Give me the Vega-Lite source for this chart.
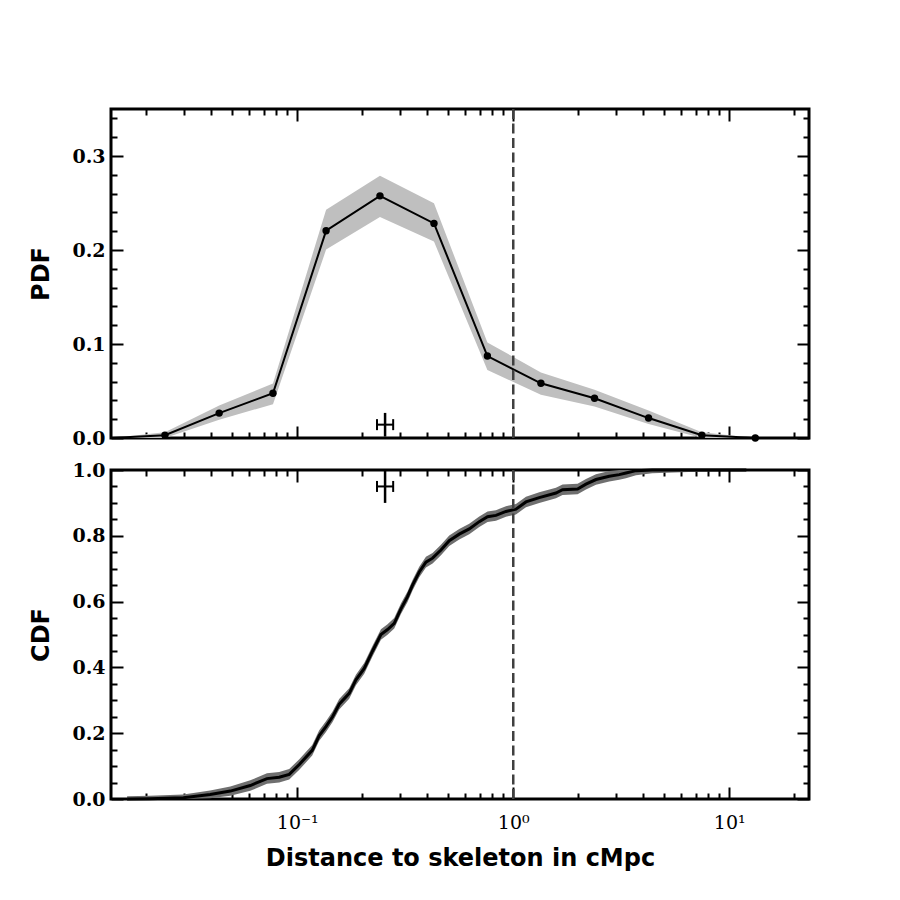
{
  "$schema": "https://vega.github.io/schema/vega-lite/v6.json",
  "background": "white",
  "padding": {"left": 28, "top": 106, "right": 10, "bottom": 10},
  "bounds": "flush",
  "spacing": 32,
  "datasets": {
    "pdf": [
      {"d": 0.01373, "pdf": 0.0, "lo": 0.0, "hi": 0.0},
      {"d": 0.0244, "pdf": 0.003, "lo": 0.0, "hi": 0.006},
      {"d": 0.0435, "pdf": 0.0265, "lo": 0.0195, "hi": 0.0346},
      {"d": 0.0772, "pdf": 0.0476, "lo": 0.036, "hi": 0.058},
      {"d": 0.136, "pdf": 0.2205, "lo": 0.2004, "hi": 0.2427},
      {"d": 0.2415, "pdf": 0.2576, "lo": 0.235, "hi": 0.279},
      {"d": 0.4295, "pdf": 0.2283, "lo": 0.209, "hi": 0.2497},
      {"d": 0.759, "pdf": 0.0872, "lo": 0.0724, "hi": 0.1016},
      {"d": 1.343, "pdf": 0.0582, "lo": 0.046, "hi": 0.0698},
      {"d": 2.378, "pdf": 0.0423, "lo": 0.0335, "hi": 0.0512},
      {"d": 4.23, "pdf": 0.0212, "lo": 0.015, "hi": 0.0293},
      {"d": 7.47, "pdf": 0.003, "lo": 0.0, "hi": 0.006},
      {"d": 13.2, "pdf": 0.0, "lo": 0.0, "hi": 0.0}
    ],
    "cdf": [
      {"d": 0.0163, "cdf": 0.0, "lo": 0.0, "hi": 0.008},
      {"d": 0.0207, "cdf": 0.001, "lo": 0.0, "hi": 0.01},
      {"d": 0.0297, "cdf": 0.004, "lo": 0.0, "hi": 0.014},
      {"d": 0.0395, "cdf": 0.014, "lo": 0.002, "hi": 0.026},
      {"d": 0.049, "cdf": 0.024, "lo": 0.01, "hi": 0.038},
      {"d": 0.0606, "cdf": 0.041, "lo": 0.025, "hi": 0.057},
      {"d": 0.0724, "cdf": 0.062, "lo": 0.046, "hi": 0.078},
      {"d": 0.0825, "cdf": 0.066, "lo": 0.05, "hi": 0.082},
      {"d": 0.0918, "cdf": 0.075, "lo": 0.059, "hi": 0.091},
      {"d": 0.1022, "cdf": 0.105, "lo": 0.089, "hi": 0.121},
      {"d": 0.1173, "cdf": 0.148, "lo": 0.132, "hi": 0.164},
      {"d": 0.1264, "cdf": 0.193, "lo": 0.177, "hi": 0.209},
      {"d": 0.1358, "cdf": 0.22, "lo": 0.204, "hi": 0.236},
      {"d": 0.1457, "cdf": 0.25, "lo": 0.234, "hi": 0.266},
      {"d": 0.1564, "cdf": 0.288, "lo": 0.272, "hi": 0.304},
      {"d": 0.174, "cdf": 0.321, "lo": 0.305, "hi": 0.337},
      {"d": 0.1869, "cdf": 0.362, "lo": 0.346, "hi": 0.378},
      {"d": 0.2042, "cdf": 0.397, "lo": 0.381, "hi": 0.413},
      {"d": 0.2232, "cdf": 0.45, "lo": 0.434, "hi": 0.466},
      {"d": 0.244, "cdf": 0.5, "lo": 0.484, "hi": 0.516},
      {"d": 0.2618, "cdf": 0.515, "lo": 0.499, "hi": 0.531},
      {"d": 0.2812, "cdf": 0.534, "lo": 0.518, "hi": 0.55},
      {"d": 0.302, "cdf": 0.578, "lo": 0.562, "hi": 0.594},
      {"d": 0.324, "cdf": 0.615, "lo": 0.599, "hi": 0.631},
      {"d": 0.3418, "cdf": 0.65, "lo": 0.634, "hi": 0.666},
      {"d": 0.3671, "cdf": 0.69, "lo": 0.674, "hi": 0.706},
      {"d": 0.3942, "cdf": 0.72, "lo": 0.704, "hi": 0.736},
      {"d": 0.4231, "cdf": 0.732, "lo": 0.716, "hi": 0.748},
      {"d": 0.4627, "cdf": 0.757, "lo": 0.741, "hi": 0.773},
      {"d": 0.5054, "cdf": 0.785, "lo": 0.769, "hi": 0.801},
      {"d": 0.5623, "cdf": 0.805, "lo": 0.789, "hi": 0.821},
      {"d": 0.6256, "cdf": 0.821, "lo": 0.805, "hi": 0.837},
      {"d": 0.696, "cdf": 0.843, "lo": 0.827, "hi": 0.859},
      {"d": 0.7603, "cdf": 0.858, "lo": 0.842, "hi": 0.874},
      {"d": 0.8316, "cdf": 0.862, "lo": 0.846, "hi": 0.878},
      {"d": 0.9252, "cdf": 0.874, "lo": 0.858, "hi": 0.89},
      {"d": 1.0292, "cdf": 0.881, "lo": 0.865, "hi": 0.897},
      {"d": 1.145, "cdf": 0.903, "lo": 0.887, "hi": 0.919},
      {"d": 1.3194, "cdf": 0.916, "lo": 0.9, "hi": 0.932},
      {"d": 1.5764, "cdf": 0.93, "lo": 0.914, "hi": 0.946},
      {"d": 1.6912, "cdf": 0.94, "lo": 0.924, "hi": 0.956},
      {"d": 1.9852, "cdf": 0.942, "lo": 0.926, "hi": 0.958},
      {"d": 2.171, "cdf": 0.957, "lo": 0.941, "hi": 0.973},
      {"d": 2.415, "cdf": 0.971, "lo": 0.955, "hi": 0.987},
      {"d": 2.783, "cdf": 0.981, "lo": 0.965, "hi": 0.997},
      {"d": 3.095, "cdf": 0.986, "lo": 0.97, "hi": 1.0},
      {"d": 3.325, "cdf": 0.991, "lo": 0.975, "hi": 1.0},
      {"d": 3.7, "cdf": 0.998, "lo": 0.984, "hi": 1.0},
      {"d": 4.401, "cdf": 1.0, "lo": 0.99, "hi": 1.0},
      {"d": 12.0, "cdf": 1.0, "lo": 1.0, "hi": 1.0}
    ],
    "marker_pdf": [{"x": 0.255, "xlo": 0.234, "xhi": 0.278, "y": 0.0142, "ylo": 0.0015, "yhi": 0.0267}],
    "marker_cdf": [{"x": 0.255, "xlo": 0.234, "xhi": 0.278, "y": 0.95, "ylo": 0.9, "yhi": 1.0}],
    "vline": [{"d": 1}]
  },
  "config": {
    "view": {"stroke": "black", "strokeWidth": 3},
    "axis": {
      "domain": false,
      "grid": false,
      "tickColor": "black",
      "tickWidth": 2,
      "labelFont": "DejaVu Serif",
      "labelFontSize": 19,
      "labelColor": "black",
      "labelOverlap": false,
      "labelFlush": false,
      "labelBound": false,
      "titleFont": "DejaVu Sans",
      "titleFontWeight": "bold",
      "titleFontSize": 24,
      "titleColor": "black"
    }
  },
  "vconcat": [
    {
      "width": 698,
      "height": 329,
      "resolve": {"axis": {"x": "independent", "y": "independent"}},
      "layer": [
        {
          "data": {"name": "pdf"},
          "mark": {"type": "area", "color": "#bfbfbf", "opacity": 1},
          "encoding": {
            "x": {"field": "d", "type": "quantitative",
              "scale": {"type": "log", "domain": [0.01373, 23.4], "nice": false},
              "axis": {"orient": "bottom", "title": null, "labels": false,
                "values": [0.02,0.03,0.04,0.05,0.06,0.07,0.08,0.09,0.1,0.2,0.3,0.4,0.5,0.6,0.7,0.8,0.9,1,2,3,4,5,6,7,8,9,10,20],
                "tickSize": {"condition": {"test": "datum.value == 0.1 || datum.value == 1 || datum.value == 10", "value": -12}, "value": -6}}},
            "y": {"field": "lo", "type": "quantitative",
              "scale": {"domain": [0, 0.35], "nice": false, "zero": false},
              "axis": {"orient": "left", "title": "PDF", "titlePadding": 18,
                "values": [0,0.02,0.04,0.06,0.08,0.1,0.12,0.14,0.16,0.18,0.2,0.22,0.24,0.26,0.28,0.3,0.32,0.34],
                "labelFontWeight": "bold",
                "labelExpr": "(datum.value == 0 || datum.value == 0.1 || datum.value == 0.2 || datum.value == 0.3) ? format(datum.value, '.1f') : ''",
                "labelPadding": 18,
                "tickSize": {"condition": {"test": "datum.value == 0 || datum.value == 0.1 || datum.value == 0.2 || datum.value == 0.3", "value": -12}, "value": -6}}},
            "y2": {"field": "hi"}
          }
        },
        {
          "data": {"name": "pdf"},
          "mark": {"type": "line", "color": "black", "strokeWidth": 2},
          "encoding": {
            "x": {"field": "d", "type": "quantitative",
              "scale": {"type": "log", "domain": [0.01373, 23.4], "nice": false},
              "axis": {"orient": "top", "title": null, "labels": false,
                "values": [0.02,0.03,0.04,0.05,0.06,0.07,0.08,0.09,0.1,0.2,0.3,0.4,0.5,0.6,0.7,0.8,0.9,1,2,3,4,5,6,7,8,9,10,20],
                "tickSize": {"condition": {"test": "datum.value == 0.1 || datum.value == 1 || datum.value == 10", "value": -12}, "value": -6}}},
            "y": {"field": "pdf", "type": "quantitative",
              "scale": {"domain": [0, 0.35], "nice": false, "zero": false},
              "axis": {"orient": "right", "title": null, "labels": false,
                "values": [0,0.02,0.04,0.06,0.08,0.1,0.12,0.14,0.16,0.18,0.2,0.22,0.24,0.26,0.28,0.3,0.32,0.34],
                "tickSize": {"condition": {"test": "datum.value == 0 || datum.value == 0.1 || datum.value == 0.2 || datum.value == 0.3", "value": -12}, "value": -6}}}
          }
        },
        {
          "data": {"name": "pdf"},
          "transform": [{"filter": "datum.d > 0.02"}],
          "mark": {"type": "point", "filled": true, "color": "black", "opacity": 1, "size": 55},
          "encoding": {
            "x": {"field": "d", "type": "quantitative", "axis": null},
            "y": {"field": "pdf", "type": "quantitative", "axis": null}
          }
        },
        {
          "data": {"name": "vline"},
          "mark": {"type": "rule", "color": "#404040", "strokeWidth": 2.5, "strokeDash": [10, 4.5]},
          "encoding": {"x": {"field": "d", "type": "quantitative", "axis": null}}
        },
        {
          "data": {"name": "marker_pdf"},
          "mark": {"type": "rule", "color": "black", "strokeWidth": 2},
          "encoding": {
            "x": {"field": "xlo", "type": "quantitative", "axis": null},
            "x2": {"field": "xhi"},
            "y": {"field": "y", "type": "quantitative", "axis": null}
          }
        },
        {
          "data": {"name": "marker_pdf"},
          "mark": {"type": "rule", "color": "black", "strokeWidth": 2.5},
          "encoding": {
            "x": {"field": "x", "type": "quantitative", "axis": null},
            "y": {"field": "ylo", "type": "quantitative", "axis": null},
            "y2": {"field": "yhi"}
          }
        },
        {
          "data": {"name": "marker_pdf"},
          "mark": {"type": "tick", "orient": "vertical", "color": "black", "thickness": 2, "size": 11, "opacity": 1},
          "encoding": {
            "x": {"field": "xlo", "type": "quantitative", "axis": null},
            "y": {"field": "y", "type": "quantitative", "axis": null}
          }
        },
        {
          "data": {"name": "marker_pdf"},
          "mark": {"type": "tick", "orient": "vertical", "color": "black", "thickness": 2, "size": 11, "opacity": 1},
          "encoding": {
            "x": {"field": "xhi", "type": "quantitative", "axis": null},
            "y": {"field": "y", "type": "quantitative", "axis": null}
          }
        }
      ]
    },
    {
      "width": 698,
      "height": 329,
      "resolve": {"axis": {"x": "independent", "y": "independent"}},
      "layer": [
        {
          "data": {"name": "cdf"},
          "mark": {"type": "area", "color": "#6f6f6f", "opacity": 1},
          "encoding": {
            "x": {"field": "d", "type": "quantitative",
              "scale": {"type": "log", "domain": [0.01373, 23.4], "nice": false},
              "axis": {"orient": "bottom", "title": "Distance to skeleton in cMpc", "titlePadding": 8,
                "values": [0.02,0.03,0.04,0.05,0.06,0.07,0.08,0.09,0.1,0.2,0.3,0.4,0.5,0.6,0.7,0.8,0.9,1,2,3,4,5,6,7,8,9,10,20],
                "labelFontSize": 19,
                "labelFontWeight": "normal",
                "labelExpr": "datum.value == 0.1 ? '10⁻¹' : datum.value == 1 ? '10⁰' : datum.value == 10 ? '10¹' : ''",
                "labelPadding": 26,
                "tickSize": {"condition": {"test": "datum.value == 0.1 || datum.value == 1 || datum.value == 10", "value": -12}, "value": -6}}},
            "y": {"field": "lo", "type": "quantitative",
              "scale": {"domain": [0, 1], "nice": false, "zero": false},
              "axis": {"orient": "left", "title": "CDF", "titlePadding": 18,
                "values": [0,0.05,0.1,0.15,0.2,0.25,0.3,0.35,0.4,0.45,0.5,0.55,0.6,0.65,0.7,0.75,0.8,0.85,0.9,0.95,1],
                "labelFontWeight": "bold",
                "labelExpr": "(datum.value == 0 || datum.value == 0.2 || datum.value == 0.4 || datum.value == 0.6 || datum.value == 0.8 || datum.value == 1) ? format(datum.value, '.1f') : ''",
                "labelPadding": 18,
                "tickSize": {"condition": {"test": "datum.value == 0 || datum.value == 0.2 || datum.value == 0.4 || datum.value == 0.6 || datum.value == 0.8 || datum.value == 1", "value": -12}, "value": -6}}},
            "y2": {"field": "hi"}
          }
        },
        {
          "data": {"name": "cdf"},
          "mark": {"type": "line", "color": "black", "strokeWidth": 3},
          "encoding": {
            "x": {"field": "d", "type": "quantitative",
              "scale": {"type": "log", "domain": [0.01373, 23.4], "nice": false},
              "axis": {"orient": "top", "title": null, "labels": false,
                "values": [0.02,0.03,0.04,0.05,0.06,0.07,0.08,0.09,0.1,0.2,0.3,0.4,0.5,0.6,0.7,0.8,0.9,1,2,3,4,5,6,7,8,9,10,20],
                "tickSize": {"condition": {"test": "datum.value == 0.1 || datum.value == 1 || datum.value == 10", "value": -12}, "value": -6}}},
            "y": {"field": "cdf", "type": "quantitative",
              "scale": {"domain": [0, 1], "nice": false, "zero": false},
              "axis": {"orient": "right", "title": null, "labels": false,
                "values": [0,0.05,0.1,0.15,0.2,0.25,0.3,0.35,0.4,0.45,0.5,0.55,0.6,0.65,0.7,0.75,0.8,0.85,0.9,0.95,1],
                "tickSize": {"condition": {"test": "datum.value == 0 || datum.value == 0.2 || datum.value == 0.4 || datum.value == 0.6 || datum.value == 0.8 || datum.value == 1", "value": -12}, "value": -6}}}
          }
        },
        {
          "data": {"name": "vline"},
          "mark": {"type": "rule", "color": "#404040", "strokeWidth": 2.5, "strokeDash": [10, 4.5]},
          "encoding": {"x": {"field": "d", "type": "quantitative", "axis": null}}
        },
        {
          "data": {"name": "marker_cdf"},
          "mark": {"type": "rule", "color": "black", "strokeWidth": 2},
          "encoding": {
            "x": {"field": "xlo", "type": "quantitative", "axis": null},
            "x2": {"field": "xhi"},
            "y": {"field": "y", "type": "quantitative", "axis": null}
          }
        },
        {
          "data": {"name": "marker_cdf"},
          "mark": {"type": "rule", "color": "black", "strokeWidth": 2.5},
          "encoding": {
            "x": {"field": "x", "type": "quantitative", "axis": null},
            "y": {"field": "ylo", "type": "quantitative", "axis": null},
            "y2": {"field": "yhi"}
          }
        },
        {
          "data": {"name": "marker_cdf"},
          "mark": {"type": "tick", "orient": "vertical", "color": "black", "thickness": 2, "size": 11, "opacity": 1},
          "encoding": {
            "x": {"field": "xlo", "type": "quantitative", "axis": null},
            "y": {"field": "y", "type": "quantitative", "axis": null}
          }
        },
        {
          "data": {"name": "marker_cdf"},
          "mark": {"type": "tick", "orient": "vertical", "color": "black", "thickness": 2, "size": 11, "opacity": 1},
          "encoding": {
            "x": {"field": "xhi", "type": "quantitative", "axis": null},
            "y": {"field": "y", "type": "quantitative", "axis": null}
          }
        }
      ]
    }
  ]
}
